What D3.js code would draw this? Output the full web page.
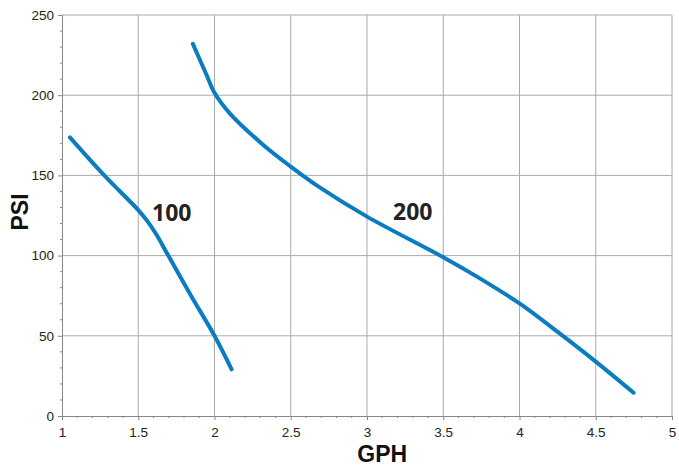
<!DOCTYPE html>
<html>
<head>
<meta charset="utf-8">
<script src="https://cdn.jsdelivr.net/npm/d3@7"></script>
<style>
    body { margin: 0; background: #fff; }
    svg { display: block; }
</style>
</head>
<body>
<div id="chart"></div>
<script>
// GPH / PSI curves
const gph100 = [1.052, 1.282, 1.5, 1.56, 1.62, 1.697, 1.85, 2.0, 2.112];
const psi100 = [173.7, 149.5, 128.4, 121.5, 113, 100, 74.4, 50, 29.1];

const gph200 = [1.858, 1.948, 2.0, 2.1, 2.32, 2.5, 2.69, 3.0, 3.5, 3.74, 4.0, 4.263, 4.5, 4.748];
const psi200 = [232, 212.6, 201.5, 188.7, 169, 155.5, 142.5, 124.3, 99, 85.8, 70.2, 51.5, 33.9, 14.5];

const xTicks = [1, 1.5, 2, 2.5, 3, 3.5, 4, 4.5, 5];
const yTicks = [0, 50, 100, 150, 200, 250];

const seriesLabels = [
    { text: '100', gph: 1.72, psi: 121.5 },
    { text: '200', gph: 3.3, psi: 122 }
];

const width = 679, height = 468;
const margin = { top: 15, right: 7, bottom: 52, left: 62 };

const svg = d3.select('#chart')
    .append('svg')
    .attr('width', width)
    .attr('height', height);

const x = d3.scaleLinear().domain([1, 5]).range([margin.left, width - margin.right]);
const y = d3.scaleLinear().domain([0, 250]).range([height - margin.bottom, margin.top]);

// grid
svg.append('g')
    .selectAll('line')
    .data(xTicks.slice(1))
    .enter()
    .append('line')
    .attr('x1', d => x(d)).attr('x2', d => x(d))
    .attr('y1', y(0)).attr('y2', y(250))
    .attr('stroke', '#aaa')
    .attr('stroke-width', 1);

svg.append('g')
    .selectAll('line')
    .data(yTicks.slice(1))
    .enter()
    .append('line')
    .attr('x1', x(1)).attr('x2', x(5))
    .attr('y1', d => y(d)).attr('y2', d => y(d))
    .attr('stroke', '#aaa')
    .attr('stroke-width', 1);

// minor ticks
const minorX = d3.range(1, 5.001, 0.1).filter(v => Math.abs(v * 2 - Math.round(v * 2)) > 0.01);
const minorY = d3.range(0, 251, 10).filter(v => v % 50 !== 0);

svg.append('g')
    .selectAll('line')
    .data(minorX)
    .enter()
    .append('line')
    .attr('x1', d => x(d)).attr('x2', d => x(d))
    .attr('y1', y(0)).attr('y2', y(0) + 2)
    .attr('stroke', '#888');

svg.append('g')
    .selectAll('line')
    .data(minorY)
    .enter()
    .append('line')
    .attr('x1', x(1) - 2).attr('x2', x(1))
    .attr('y1', d => y(d)).attr('y2', d => y(d))
    .attr('stroke', '#888');

// axes
const xAxis = svg.append('g')
    .attr('transform', `translate(0,${y(0)})`)
    .call(d3.axisBottom(x).tickValues(xTicks).tickSize(4).tickPadding(7).tickFormat(d3.format('')));

const yAxis = svg.append('g')
    .attr('transform', `translate(${x(1)},0)`)
    .call(d3.axisLeft(y).tickValues(yTicks).tickSize(4).tickPadding(4));

[xAxis, yAxis].forEach(a => {
    a.select('.domain').attr('stroke', '#888');
    a.selectAll('.tick line').attr('stroke', '#888');
    a.selectAll('.tick text')
        .attr('fill', '#222')
        .attr('font-family', 'Liberation Sans, Arial, sans-serif')
        .attr('font-size', '13.5px');
});

// curves
const line = d3.line()
    .x(d => x(d[0]))
    .y(d => y(d[1]))
    .curve(d3.curveCatmullRom.alpha(0.5));

[[gph100, psi100], [gph200, psi200]].forEach(([gx, py]) => {
    svg.append('path')
        .datum(gx.map((g, i) => [g, py[i]]))
        .attr('d', line)
        .attr('fill', 'none')
        .attr('stroke', '#0a7cc2')
        .attr('stroke-width', 4)
        .attr('stroke-linecap', 'round');
});

svg.selectAll('.series-label')
    .data(seriesLabels)
    .enter()
    .append('text')
    .attr('class', 'series-label')
    .attr('x', d => x(d.gph))
    .attr('y', d => y(d.psi))
    .attr('text-anchor', 'middle')
    .attr('font-family', 'Open Sans, sans-serif')
    .attr('font-weight', 'bold')
    .attr('font-size', '23px')
    .attr('fill', '#222')
    .text(d => d.text);

// axis titles
svg.append('text')
    .attr('x', x(3.1))
    .attr('y', 462)
    .attr('text-anchor', 'middle')
    .attr('font-family', 'Liberation Sans, Arial, sans-serif')
    .attr('font-weight', 'bold')
    .attr('font-size', '23px')
    .attr('fill', '#111')
    .text('GPH');

svg.append('text')
    .attr('transform', `translate(28,212) rotate(-90)`)
    .attr('text-anchor', 'middle')
    .attr('font-family', 'Liberation Sans, Arial, sans-serif')
    .attr('font-weight', 'bold')
    .attr('font-size', '23px')
    .attr('fill', '#111')
    .text('PSI');
</script>
</body>
</html>
